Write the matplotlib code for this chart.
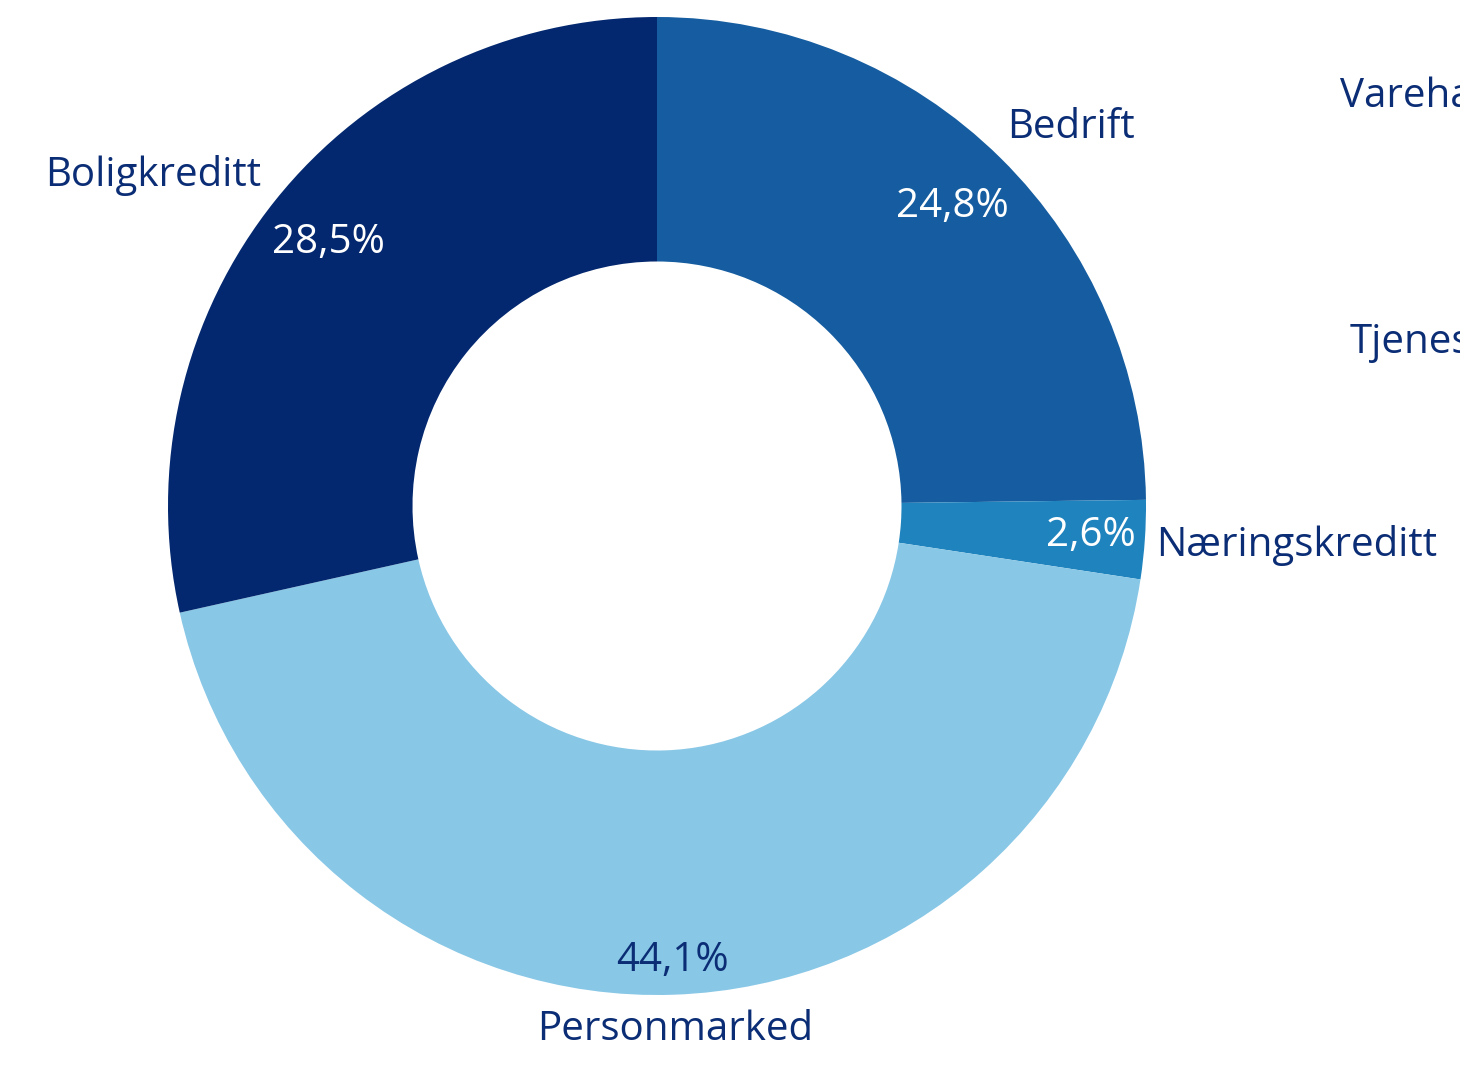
import numpy as np
import matplotlib.pyplot as plt

# andel utlån per segment (prosent)
segmenter = ['Bedrift', 'Næringskreditt', 'Personmarked', 'Boligkreditt']
andel = [24.8, 2.6, 44.1, 28.5]
farger = ['#155da0', '#1f83be', '#88c7e6', '#03286f']
pct_farge = ['white', 'white', '#0b2d75', 'white']
tekst = '#0b2d75'

# avkuttede etiketter i høyre kant
ekstra = ['Varehandel', 'Tjenester']

plt.rcParams['font.family'] = ['Open Sans', 'DejaVu Sans']

fig = plt.figure(figsize=(14.6, 10.67), dpi=100)
ax = fig.add_axes([0, 0, 1, 1])

cx, cy, R = 657, 561, 489
ax.pie(andel, colors=farger, startangle=90, counterclock=False,
       center=(cx, cy), radius=R, frame=True,
       wedgeprops=dict(width=R * 0.5, linewidth=0))
ax.set_xlim(0, 1460)
ax.set_ylim(0, 1067)
ax.axis('off')

fs = 29
# etikettplassering (radius-faktor for prosent og navn)
pct_r = [0.86, 0.89, 0.93, 0.86]
navn_pos = [(1071, 939), (1156, 522), (675, 37), (153, 892)]
navn_ha = ['center', 'left', 'center', 'center']

start = 90.0
for i, v in enumerate(andel):
    mid = np.deg2rad(start - v * 3.6 / 2)
    start -= v * 3.6
    px = cx + R * pct_r[i] * np.cos(mid)
    py = cy + R * pct_r[i] * np.sin(mid)
    ax.text(px, py, f'{v:.1f}%'.replace('.', ','), color=pct_farge[i],
            fontsize=fs, ha='center', va='center')
    ax.text(navn_pos[i][0], navn_pos[i][1], segmenter[i], color=tekst,
            fontsize=fs, ha=navn_ha[i], va='center')

ax.text(1340, 970, ekstra[0], color=tekst, fontsize=fs, ha='left', va='center')
ax.text(1350, 724, ekstra[1], color=tekst, fontsize=fs, ha='left', va='center')

fig.savefig('out.png', dpi=100)
